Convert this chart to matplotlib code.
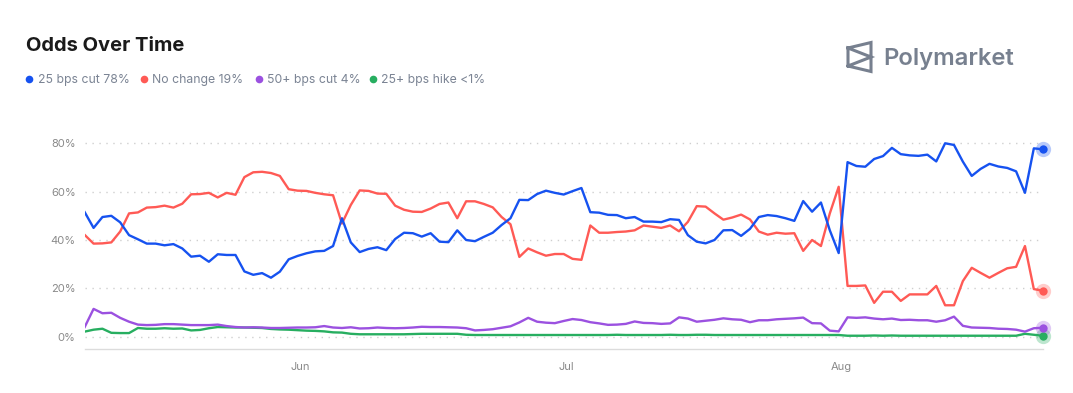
import matplotlib
matplotlib.use('Agg')
import matplotlib.pyplot as plt
import matplotlib.dates as mdates
import pandas as pd
from matplotlib.lines import Line2D

plt.rcParams['font.family'] = ['Inter', 'DejaVu Sans']

# ---------------- data (percent) ----------------
start_time = '2025-05-07 18:00'

cut25 = [51.5, 45.0, 49.5, 50.0, 47.3, 42.0, 40.3, 38.5, 38.5, 37.8,
         38.3, 36.5, 33.1, 33.5, 31.0, 34.1, 33.8, 33.8, 27.0, 25.6,
         26.3, 24.4, 26.9, 32.0, 33.4, 34.5, 35.3, 35.5, 37.5, 49.0,
         39.0, 35.0, 36.3, 37.0, 35.8, 40.4, 43.0, 42.8, 41.4, 42.8,
         39.3, 39.1, 44.0, 40.0, 39.5, 41.3, 43.0, 46.2, 49.0, 56.6,
         56.5, 59.0, 60.4, 59.5, 58.8, 60.2, 61.5, 51.5, 51.3, 50.4,
         50.3, 49.0, 49.5, 47.6, 47.6, 47.4, 48.6, 48.3, 42.0, 39.3,
         38.6, 40.0, 44.0, 44.1, 41.7, 44.6, 49.5, 50.3, 49.9, 49.0,
         47.9, 56.1, 51.7, 55.5, 44.0, 34.6, 72.2, 70.6, 70.3, 73.5,
         74.7, 78.1, 75.5, 75.0, 74.8, 75.3, 72.5, 80.0, 79.3, 72.4,
         66.5, 69.4, 71.5, 70.4, 69.8, 68.4, 59.5, 77.9, 77.5]

no_change = [42.1, 38.5, 38.6, 39.0, 43.5, 51.0, 51.4, 53.4, 53.6, 54.2,
             53.4, 55.0, 58.9, 59.0, 59.5, 57.6, 59.5, 58.7, 66.0, 68.0,
             68.2, 67.7, 66.5, 61.0, 60.4, 60.3, 59.5, 58.9, 58.5, 46.8,
             54.5, 60.5, 60.3, 59.2, 59.1, 54.2, 52.5, 51.7, 51.6, 53.0,
             54.9, 55.5, 49.0, 56.0, 56.0, 54.9, 53.5, 49.5, 46.5, 33.0,
             36.5, 34.9, 33.5, 34.2, 34.2, 32.2, 31.8, 46.0, 43.0, 43.0,
             43.3, 43.5, 44.0, 46.0, 45.5, 45.0, 46.0, 43.6, 47.5, 54.0,
             53.8, 51.0, 48.4, 49.3, 50.5, 48.5, 43.5, 42.2, 43.0, 42.6,
             42.8, 35.5, 40.0, 37.5, 51.0, 62.0, 21.0, 21.0, 21.2, 14.0,
             18.6, 18.6, 14.8, 17.5, 17.5, 17.5, 21.0, 13.0, 13.0, 23.0,
             28.5, 26.4, 24.4, 26.4, 28.3, 28.9, 37.5, 19.7, 19.0]

cut50 = [4.0, 11.5, 9.7, 9.9, 7.8, 6.2, 5.0, 4.8, 4.9, 5.2,
         5.2, 5.0, 4.8, 4.8, 4.8, 5.0, 4.4, 4.0, 3.8, 3.9,
         3.8, 3.6, 3.6, 3.7, 3.8, 3.8, 3.9, 4.4, 3.8, 3.6,
         3.9, 3.4, 3.5, 3.8, 3.6, 3.5, 3.6, 3.8, 4.1, 4.0,
         4.0, 3.9, 3.8, 3.5, 2.6, 2.8, 3.1, 3.7, 4.3, 5.9,
         7.8, 6.2, 5.8, 5.6, 6.5, 7.3, 6.9, 6.0, 5.5, 4.9,
         5.0, 5.3, 6.3, 5.7, 5.6, 5.3, 5.5, 8.0, 7.5, 6.2,
         6.6, 7.0, 7.6, 7.2, 7.0, 6.0, 6.8, 6.8, 7.2, 7.4,
         7.6, 7.9, 5.6, 5.5, 2.5, 2.2, 8.0, 7.8, 8.0, 7.5,
         7.2, 7.5, 6.9, 7.0, 6.8, 6.8, 6.2, 6.8, 8.3, 4.5,
         3.8, 3.7, 3.6, 3.3, 3.2, 2.9, 2.1, 3.5, 3.7]

hike25 = [2.1, 2.9, 3.3, 1.6, 1.5, 1.5, 3.6, 3.3, 3.3, 3.5,
          3.3, 3.4, 2.6, 2.8, 3.5, 4.0, 3.9, 3.8, 3.8, 3.7,
          3.6, 3.2, 3.0, 2.9, 2.7, 2.5, 2.4, 2.2, 1.8, 1.7,
          1.2, 1.0, 1.0, 1.0, 1.0, 1.0, 1.0, 1.1, 1.2, 1.2,
          1.2, 1.2, 1.2, 0.8, 0.7, 0.7, 0.7, 0.7, 0.7, 0.7,
          0.7, 0.7, 0.7, 0.7, 0.7, 0.7, 0.7, 0.7, 0.7, 0.7,
          0.8, 0.7, 0.7, 0.7, 0.7, 0.7, 0.8, 0.7, 0.7, 0.8,
          0.8, 0.7, 0.7, 0.7, 0.7, 0.7, 0.7, 0.7, 0.7, 0.7,
          0.7, 0.7, 0.7, 0.7, 0.7, 0.7, 0.4, 0.4, 0.4, 0.5,
          0.4, 0.5, 0.4, 0.4, 0.4, 0.4, 0.4, 0.4, 0.4, 0.4,
          0.4, 0.4, 0.4, 0.4, 0.4, 0.4, 1.2, 0.8, 0.4]

series_names = ['25 bps cut', 'No change', '50+ bps cut', '25+ bps hike']
legend_values = ['78%', '19%', '4%', '<1%']
series_colors = ['#1652f0', '#ff5a55', '#9b51e0', '#27ae60']
yticks = [0, 20, 40, 60, 80]

dates = pd.date_range(start_time, periods=len(cut25), freq='D')
all_series = [cut25, no_change, cut50, hike25]

# ---------------- figure ----------------
W, H = 1073, 393
fig = plt.figure(figsize=(W / 100, H / 100), dpi=100)
fig.patch.set_facecolor('white')


def fx(x):
    return x / W


def fy(y):
    return 1 - y / H


ax_l, ax_r, ax_t, ax_b = 84.7, 1042.7, 100.0, 348.5
ax = fig.add_axes([fx(ax_l), fy(ax_b), (ax_r - ax_l) / W, (ax_b - ax_t) / H])

for vals, col in reversed(list(zip(all_series, series_colors))):
    ax.plot(dates, vals, color=col, lw=1.7, solid_joinstyle='round', zorder=3)
    ax.plot(dates[-1], vals[-1], 'o', color=col, ms=11, alpha=0.3,
            mec='none', zorder=4, clip_on=False)
    ax.plot(dates[-1], vals[-1], 'o', color=col, ms=6, mec='none',
            zorder=5, clip_on=False)

ax.set_xlim(dates[0], dates[-1])
ax.set_ylim(-4.88, 97.9)
ax.set_yticks(yticks)
ax.set_yticklabels([f'{v}%' for v in yticks])
ax.yaxis.grid(True, linestyle=(0, (1, 4)), color='#cfcfcf', lw=1)
ax.set_axisbelow(True)
ax.xaxis.set_major_locator(mdates.MonthLocator())
ax.xaxis.set_major_formatter(mdates.DateFormatter('%b'))
for s in ['top', 'right', 'left']:
    ax.spines[s].set_visible(False)
ax.spines['bottom'].set_color('#dcdcdc')
ax.spines['bottom'].set_linewidth(1)
ax.tick_params(axis='y', length=0, pad=6.5, labelsize=8, labelcolor='#8a8a8a')
ax.tick_params(axis='x', length=0, pad=10, labelsize=8, labelcolor='#8a8a8a')

# ---------------- title ----------------
fig.text(fx(25.5), fy(50.7), 'Odds Over Time', fontsize=14.5, fontweight='bold',
         color='#1a1a1a', va='baseline', ha='left')

# ---------------- legend ----------------
legend_dot_x = [29, 144, 258.7, 372.7]
for name, val, col, dx in zip(series_names, legend_values, series_colors, legend_dot_x):
    fig.lines.append(Line2D([fx(dx)], [fy(79)], marker='o', ms=5.5, color=col,
                            mec='none', transform=fig.transFigure))
    fig.text(fx(dx + 8.5), fy(79), f'{name} {val}', fontsize=8.8, color='#7b8494',
             va='center_baseline', ha='left')

# ---------------- Polymarket logo ----------------
logo_col = '#77808f'
icon = [(848, 48), (871, 42.5), (871, 71.5), (848, 66), (848, 48),
        (871, 57), (848, 66)]
fig.lines.append(Line2D([fx(p[0]) for p in icon], [fy(p[1]) for p in icon],
                        color=logo_col, lw=2.2, solid_joinstyle='miter',
                        transform=fig.transFigure))
fig.text(fx(883), fy(65), 'Polymarket', fontsize=17.2, fontweight='semibold',
         color=logo_col, va='baseline', ha='left')

fig.savefig('out.png', dpi=100, facecolor='white')
